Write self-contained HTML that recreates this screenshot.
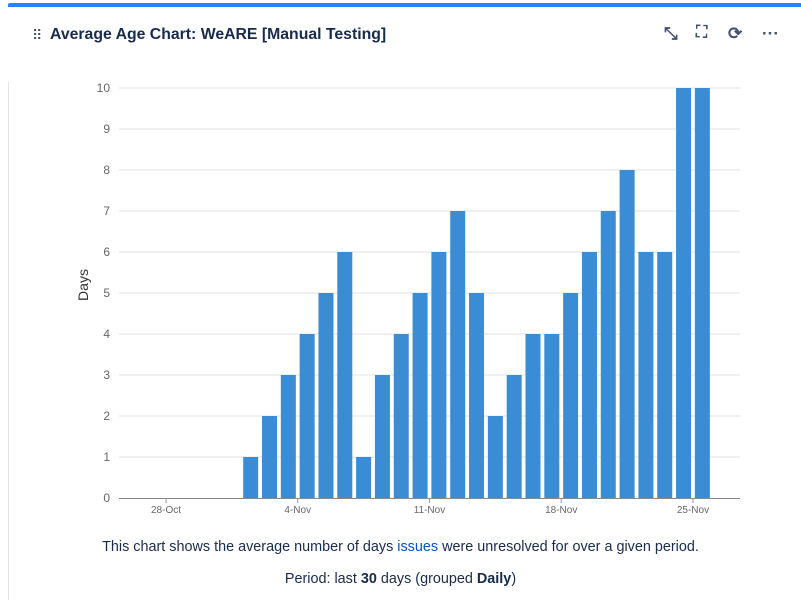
<!DOCTYPE html>
<html><head><meta charset="utf-8"><style>
body{margin:0;width:801px;height:600px;background:#fff;font-family:"Liberation Sans",sans-serif;overflow:hidden;position:relative}
.top{position:absolute;left:8px;top:3px;width:793px;height:4px;background:#2684ff;border-radius:2px 0 0 0}
.lb{position:absolute;left:8px;top:82px;width:1px;height:518px;background:#dfe1e6}
.title{position:absolute;left:50px;top:26px;font-size:15.8px;font-weight:bold;color:#172b4d}
.drag{position:absolute;left:32px;top:27px;font-size:14px;color:#42526e;letter-spacing:-2px}
.icons{position:absolute;top:24px;font-size:17px;color:#42526e;font-weight:bold}
.cap{position:absolute;left:0;width:801px;text-align:center;font-size:14.4px;color:#172b4d}
.cap a{color:#0052cc;text-decoration:none}
</style></head><body>
<div class="top"></div>
<div class="lb"></div>
<div class="drag">⠿</div>
<div class="title">Average Age Chart: WeARE [Manual Testing]</div>
<div class="icons" style="left:664px">⤡</div>
<div class="icons" style="left:696px;font-size:16px">⛶</div>
<div class="icons" style="left:728px">⟳</div>
<div class="icons" style="left:762px">···</div>
<svg id="chart" width="801" height="600" style="position:absolute;left:0;top:0"></svg>
<div class="cap" style="top:539px">This chart shows the average number of days <a href="#">issues</a> were unresolved for over a given period.</div>
<div class="cap" style="top:571px">Period: last <b>30</b> days (grouped <b>Daily</b>)</div>
<script>
const dayOffsets=[4,5,6,7,8,9,10,11,12,13,14,15,16,17,18,19,20,21,22,23,24,25,26,27,28];
const values=[1,2,3,4,5,6,1,3,4,5,6,7,5,2,3,4,4,5,6,7,8,6,6,10,10];
const yTicks=[0,1,2,3,4,5,6,7,8,9,10];
const xTickOffsets=[0,7,14,21,28];
const xTickLabels=["28-Oct","4-Nov","11-Nov","18-Nov","25-Nov"];
const NS="http://www.w3.org/2000/svg";
const svg=document.getElementById('chart');
const X=d=>166+d*18.82;
const Y=v=>498-v*41;
function mk(t,a){const e=document.createElementNS(NS,t);for(const k in a)e.setAttribute(k,a[k]);svg.appendChild(e);return e;}
yTicks.forEach(v=>{
 if(v>0){const g=mk('line',{x1:119,x2:740,y1:Y(v),y2:Y(v),stroke:'#e0e0e0'});
 
 }
 const t=mk('text',{x:110,y:Y(v)+4,'text-anchor':'end','font-size':12,fill:'#666','font-family':'Liberation Sans, sans-serif'});
 t.textContent=v;
 
 
});
values.forEach((v,i)=>{
 const c=X(dayOffsets[i]+0.5);
 const r=mk('rect',{x:c-7.5,y:Y(v),width:15,height:Y(0)-Y(v),fill:'#3a8dd4'});
 
 
});
const ax=mk('line',{x1:119,x2:740,y1:498.5,y2:498.5,stroke:'#888'});


xTickOffsets.forEach((d,i)=>{
 const tk=mk('line',{x1:X(d),x2:X(d),y1:499,y2:503,stroke:'#999'});
 
 
 const t=mk('text',{x:X(d),y:513,'text-anchor':'middle','font-size':10,fill:'#666','font-family':'Liberation Sans, sans-serif'});
 t.textContent=xTickLabels[i];
 
 
});
const yt=mk('text',{x:0,y:0,transform:'translate(88,285) rotate(-90)','text-anchor':'middle','font-size':14,fill:'#333','font-family':'Liberation Sans, sans-serif'});
yt.textContent='Days';


</script>
</body></html>
